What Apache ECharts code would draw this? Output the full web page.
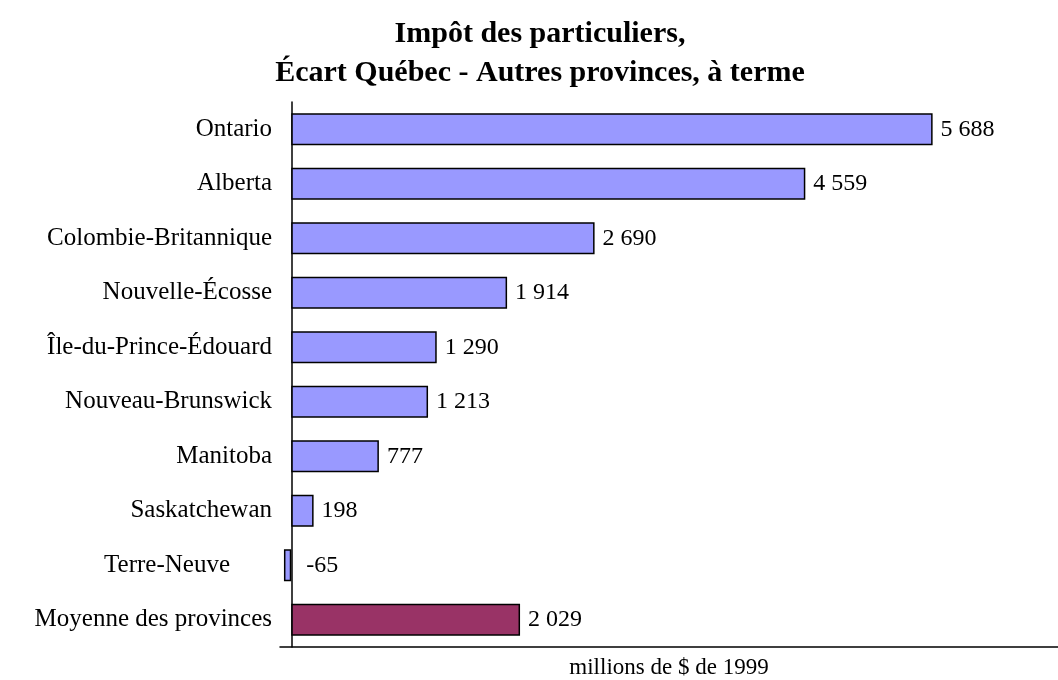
<!DOCTYPE html>
<html>
<head>
<meta charset="utf-8">
<script src="https://cdn.jsdelivr.net/npm/echarts@6/dist/echarts.min.js"></script>
<style>
  html, body { margin: 0; padding: 0; background: #fff; }
  #chart { width: 1058px; height: 680px; }
</style>
</head>
<body>
<div id="chart"></div>
<script>
// provinces, top to bottom
const provinces = [
  'Ontario',
  'Alberta',
  'Colombie-Britannique',
  'Nouvelle-Écosse',
  'Île-du-Prince-Édouard',
  'Nouveau-Brunswick',
  'Manitoba',
  'Saskatchewan',
  'Terre-Neuve',
  'Moyenne des provinces'
];
// écart en millions de $ de 1999
const ecart = [5688, 4559, 2690, 1914, 1290, 1213, 777, 198, -65, 2029];
const axisName = 'millions de $ de 1999';

const serif = '"Liberation Serif", "Times New Roman", serif';

// espace comme séparateur de milliers
function fmt(v) {
  const s = String(Math.abs(v)).replace(/\B(?=(\d{3})+(?!\d))/g, ' ');
  return (v < 0 ? '-' : '') + s;
}

const chart = echarts.init(document.getElementById('chart'));
chart.setOption({
  backgroundColor: '#fff',
  animation: false,
  title: {
    text: 'Impôt des particuliers,\nÉcart Québec - Autres provinces, à terme',
    left: 535,
    top: 10,
    textAlign: 'center',
    textStyle: {
      fontFamily: serif,
      fontWeight: 'bold',
      fontSize: 30,
      lineHeight: 39,
      color: '#000'
    }
  },
  grid: { left: 280, right: 0, top: 102, bottom: 33, outerBoundsMode: 'none', containLabel: false },
  xAxis: {
    type: 'value',
    min: -100,
    max: 6800,
    name: axisName,
    nameLocation: 'middle',
    nameGap: 9,
    nameTextStyle: { fontFamily: serif, fontSize: 23, color: '#000', verticalAlign: 'top' },
    axisLine: { show: true, lineStyle: { color: '#000', width: 1.5 } },
    axisTick: { show: false },
    axisLabel: { show: false },
    splitLine: { show: false }
  },
  yAxis: {
    type: 'category',
    inverse: true,
    data: provinces,
    axisLine: { show: true, onZero: true, lineStyle: { color: '#000', width: 1.5 } },
    axisTick: { show: false },
    axisLabel: {
      margin: 8,
      fontFamily: serif,
      fontSize: 25,
      color: '#000',
      // l'étiquette de la barre négative est décalée vers la gauche
      formatter: (v, i) => (ecart[i] < 0 ? '{neg|' + v + '}' : v),
      rich: { neg: { fontFamily: serif, fontSize: 25, color: '#000', padding: [0, 42, 0, 0] } }
    }
  },
  series: [
    {
      type: 'bar',
      barWidth: 32,
      data: ecart.map((v, i) => ({
        value: v,
        itemStyle: { color: i === ecart.length - 1 ? '#993366' : '#9999FF' },
        label: { distance: v < 0 ? 15 : 8 }
      })),
      itemStyle: { borderColor: '#000', borderWidth: 1.5 },
      label: {
        show: true,
        position: 'right',
        fontFamily: serif,
        fontSize: 24,
        color: '#000',
        formatter: p => fmt(p.value)
      }
    }
  ]
});
</script>
</body>
</html>
